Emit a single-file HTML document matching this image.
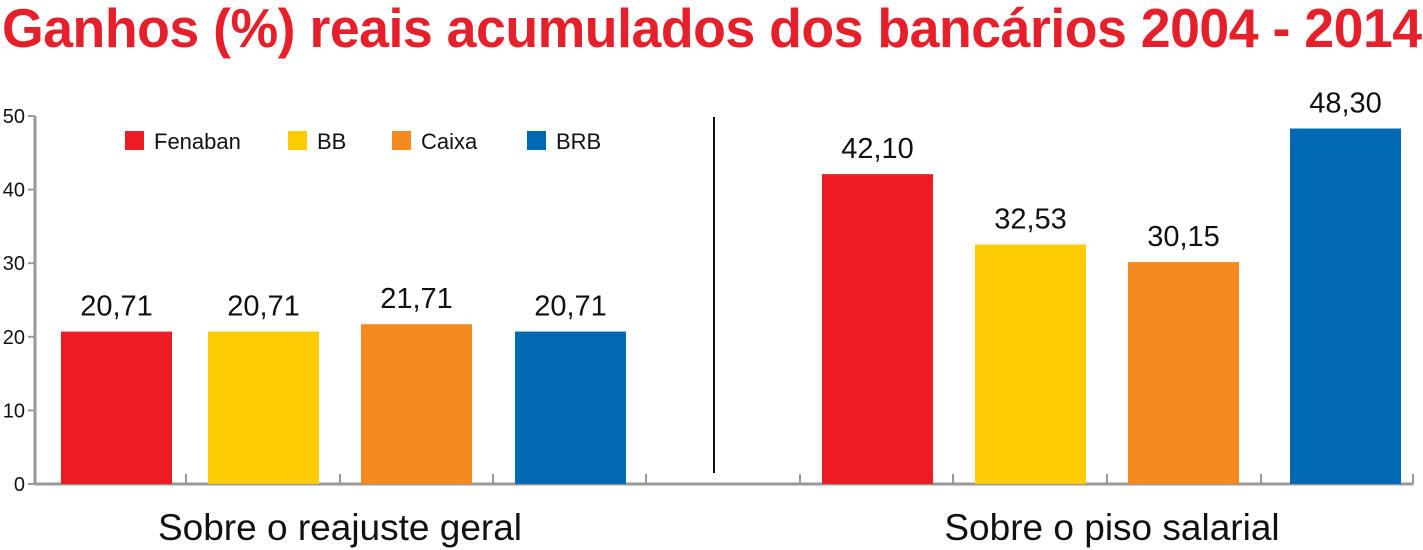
<!DOCTYPE html>
<html><head><meta charset="utf-8"><style>
body{margin:0;width:1423px;height:550px;background:#fff;overflow:hidden;font-family:"Liberation Sans",sans-serif}
h1{position:absolute;left:2px;top:-4px;margin:0;font-size:55px;font-weight:bold;color:#e5202a;letter-spacing:-0.5px;transform:scaleX(0.975);transform-origin:left;white-space:nowrap}
</style></head><body>
<h1>Ganhos (%) reais acumulados dos bancários 2004 - 2014</h1>
<svg id="c" width="1423" height="550" style="position:absolute;left:0;top:0"></svg>
<script>
const groups=["Sobre o reajuste geral","Sobre o piso salarial"];
const series=["Fenaban","BB","Caixa","BRB"];
const colors=["#ed1c24","#ffcb05","#f58a1f","#0069b4"];
const reajuste=[20.71,20.71,21.71,20.71];
const piso=[42.10,32.53,30.15,48.30];
const labelsReajuste=["20,71","20,71","21,71","20,71"];
const labelsPiso=["42,10","32,53","30,15","48,30"];
const yTicks=[0,10,20,30,40,50];
const svg=document.getElementById('c');const NS="http://www.w3.org/2000/svg";
function y(v){return 484-v*7.36;}
function mk(t,a,p){const e=document.createElementNS(NS,t);for(const k in a)e.setAttribute(k,a[k]);(p||svg).appendChild(e);return e;}
let ax=mk('line',{x1:35,y1:484,x2:1413,y2:484,stroke:'#999','stroke-width':3});


let ay=mk('line',{x1:35,y1:116,x2:35,y2:485,stroke:'#999','stroke-width':3});


[186,340,493,646,800,953,1107,1261,1413].forEach(x=>{mk('line',{x1:x,y1:474,x2:x,y2:484,stroke:'#999','stroke-width':2});});
yTicks.forEach(v=>{mk('line',{x1:28,y1:y(v),x2:35,y2:y(v),stroke:'#999','stroke-width':2});
 const t=mk('text',{x:25,y:y(v)+7,'text-anchor':'end','font-size':20,fill:'#111'});t.textContent=v;
 
 });
mk('line',{x1:714,y1:117,x2:714,y2:473,stroke:'#111','stroke-width':2});
const leftX=[61,208,361,515],rightX=[822,975,1128,1290],bw=111;
function drawGroup(vals,labs,xs,g){vals.forEach((v,i)=>{
 const r=mk('rect',{x:xs[i],y:y(v),width:bw,height:484-y(v),fill:colors[i]});
 
 
 const t=mk('text',{x:xs[i]+bw/2,y:y(v)-16,'text-anchor':'middle','font-size':29,fill:'#111'});t.textContent=labs[i];
 
 });}
drawGroup(reajuste,labelsReajuste,leftX,'reajuste');
drawGroup(piso,labelsPiso,rightX,'piso');
[[340,groups[0]],[1112,groups[1]]].forEach(([x,s])=>{const t=mk('text',{x:x,y:540,'text-anchor':'middle','font-size':37,fill:'#111'});t.textContent=s;
 
 });
const lx=[125,288,392,527];
series.forEach((s,i)=>{const r=mk('rect',{x:lx[i],y:131,width:19,height:19,fill:colors[i]});
 
 
 const t=mk('text',{x:lx[i]+29,y:149,'font-size':22,fill:'#111'});t.textContent=s;
 
 });
</script>
</body></html>
